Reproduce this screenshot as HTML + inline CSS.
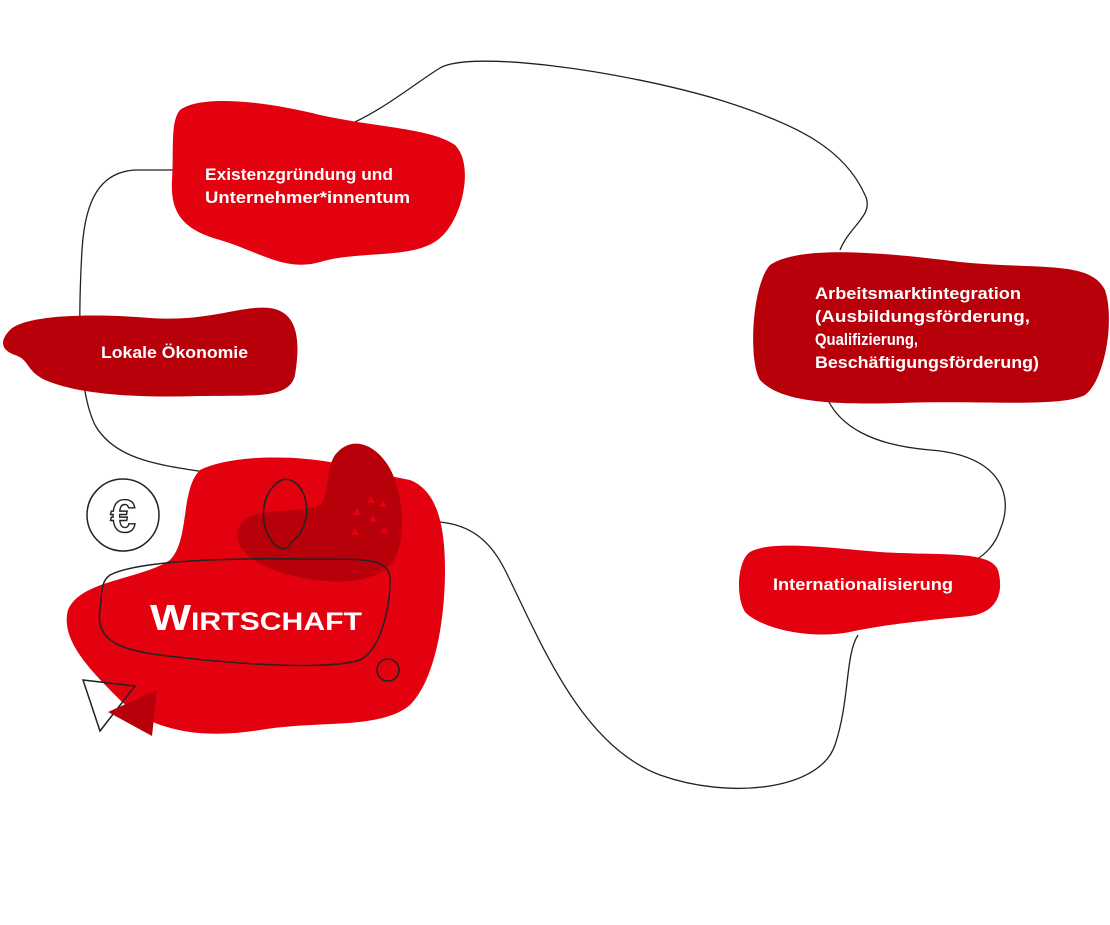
<!DOCTYPE html>
<html><head><meta charset="utf-8"><style>
body{margin:0;background:#fff;}
svg{display:block}
text{font-family:"Liberation Sans Narrow","Liberation Sans",sans-serif;font-weight:bold;fill:#fff}
</style></head><body>
<svg width="1110" height="925" viewBox="0 0 1110 925" xmlns="http://www.w3.org/2000/svg">
<path d="M355,122 C390,105 420,80 440,68 C470,50 620,70 720,100 C800,125 845,150 865,195 C875,215 850,225 840,250" fill="none" stroke="#222" stroke-width="1.3"/>
<path d="M828,400 C840,425 870,445 930,450 C1000,455 1015,495 1000,530 C995,545 985,555 975,560" fill="none" stroke="#222" stroke-width="1.3"/>
<path d="M858,635 C845,655 850,700 835,745 C820,790 730,800 660,775 C580,745 540,640 505,570 C490,540 470,525 440,522" fill="none" stroke="#222" stroke-width="1.3"/>
<path d="M175,170 L135,170 C100,172 85,200 82,250 C78,320 78,390 95,425 C115,460 160,465 205,472" fill="none" stroke="#222" stroke-width="1.3"/>
<path d="M180,110 C200,95 260,100 320,115 C380,128 430,128 455,145 C475,165 462,220 440,238 C415,260 360,250 320,262 C285,272 260,252 220,240 C185,230 170,215 172,180 C174,150 170,122 180,110 Z" fill="#e3000f"/>
<text x="205" y="180" font-size="17" textLength="188" lengthAdjust="spacingAndGlyphs">Existenzgründung und</text>
<text x="205" y="203" font-size="17" textLength="205" lengthAdjust="spacingAndGlyphs">Unternehmer*innentum</text>
<path d="M10,330 C25,315 90,313 150,318 C210,322 240,305 270,308 C300,312 300,345 295,375 C290,400 250,395 200,396 C140,398 80,395 45,380 C25,370 30,360 15,355 C0,350 0,340 10,330 Z" fill="#b8000b"/>
<text x="101" y="358" font-size="17" textLength="147" lengthAdjust="spacingAndGlyphs">Lokale Ökonomie</text>
<path d="M770,265 C800,245 880,252 960,262 C1040,270 1090,260 1105,290 C1115,320 1105,380 1085,395 C1060,408 980,400 900,403 C830,405 780,402 760,380 C748,360 752,285 770,265 Z" fill="#b8000b"/>
<text x="815" y="299" font-size="17" textLength="206" lengthAdjust="spacingAndGlyphs">Arbeitsmarktintegration</text>
<text x="815" y="322" font-size="17" textLength="215" lengthAdjust="spacingAndGlyphs">(Ausbildungsförderung,</text>
<text x="815" y="345" font-size="17" textLength="103" lengthAdjust="spacingAndGlyphs">Qualifizierung,</text>
<text x="815" y="368" font-size="17" textLength="224" lengthAdjust="spacingAndGlyphs">Beschäftigungsförderung)</text>
<path d="M750,552 C770,540 830,548 880,552 C940,556 990,550 998,570 C1004,592 998,612 970,616 C930,620 880,625 850,632 C810,640 760,628 745,612 C735,595 738,560 750,552 Z" fill="#e3000f"/>
<text x="773" y="590" font-size="17" textLength="180" lengthAdjust="spacingAndGlyphs">Internationalisierung</text>
<path d="M200,470 C230,455 290,455 330,462 C360,470 385,475 410,480 C435,490 445,520 445,570 C445,620 435,680 410,705 C380,730 320,720 260,730 C200,740 150,730 120,700 C90,670 60,640 68,610 C80,580 140,580 170,560 C190,540 180,490 200,470 Z" fill="#e3000f"/>
<path d="M335,455 C355,430 385,450 395,480 C405,510 405,550 390,565 C370,585 330,585 290,575 C250,565 230,545 240,525 C252,505 300,515 320,505 C330,495 325,470 335,455 Z" fill="#b8000b"/>
<g fill="#e3000f"><path d="M367,503 l4,-7 4,7z M379,507 l4,-7 4,7z M353,515 l4,-7 4,7z M369,522 l4,-7 4,7z M351,535 l4,-7 4,7z M380,533 l4,-7 4,7z"/></g>
<path d="M290,480 C305,485 312,510 302,530 C298,540 292,538 290,545 C285,552 275,548 270,538 C260,522 262,500 272,488 C278,480 285,478 290,480 Z" fill="none" stroke="#222" stroke-width="1.5"/>
<path d="M110,575 C140,560 230,558 300,559 C360,560 390,555 390,580 C390,610 380,650 360,660 C330,670 240,665 160,655 C120,650 95,640 100,610 C102,595 100,582 110,575 Z" fill="none" stroke="#222" stroke-width="1.5"/>
<text x="150" y="630" font-size="36" textLength="212" lengthAdjust="spacingAndGlyphs" style="font-variant:small-caps">Wirtschaft</text>
<circle cx="388" cy="670" r="11" fill="none" stroke="#222" stroke-width="1.5"/>
<path d="M83,680 L135,686 L100,731 Z" fill="none" stroke="#222" stroke-width="1.5"/>
<path d="M108,712 L157,690 L152,736 Z" fill="#b8000b"/>
<circle cx="123" cy="515" r="36" fill="#fff" stroke="#222" stroke-width="1.5"/>
<text x="123" y="532" font-size="46" text-anchor="middle" style="fill:#fff;stroke:#222;stroke-width:1.4;font-weight:bold;font-family:'Liberation Sans',sans-serif">€</text>
</svg>
</body></html>
